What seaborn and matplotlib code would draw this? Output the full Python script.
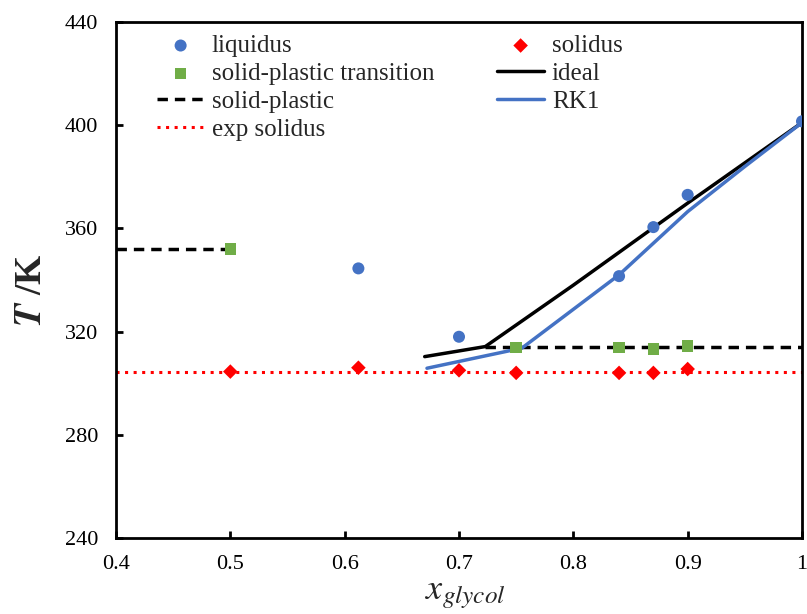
import numpy as np
import pandas as pd
import seaborn as sns
import matplotlib
import matplotlib.pyplot as plt
matplotlib.use('Agg')

liq_x = [0.612, 0.70, 0.84, 0.87, 0.90, 1.0]
liq_T = [344.5, 318.0, 341.5, 360.5, 373.0, 401.5]

sol_x = [0.50, 0.612, 0.70, 0.75, 0.84, 0.87, 0.90]
sol_T = [304.5, 306.0, 305.0, 304.0, 304.0, 304.0, 305.5]

spt_x = [0.50, 0.75, 0.84, 0.87, 0.90]
spt_T = [352.0, 313.8, 313.8, 313.3, 314.5]

# Model curves
ideal_x = [0.67, 0.723, 0.80, 0.90, 1.0]
ideal_T = [310.3, 314.2, 338.0, 369.8, 401.0]

rk1_x = [0.672, 0.755, 0.84, 0.90, 0.95, 1.0]
rk1_T = [305.8, 313.6, 342.0, 366.5, 384.0, 401.0]

# Horizontal lines
sp_left_x = [0.40, 0.50]
sp_left_T = [352.0, 352.0]
sp_right_x = [0.723, 1.0]
sp_right_T = [314.2, 314.2]
exp_sol_x = [0.40, 1.0]
exp_sol_T = [304.3, 304.3]

blue = '#4472C4'
green = '#70AD47'
red = '#FF0000'

sns.set_theme(style='ticks')
plt.rcParams['font.family'] = ['Liberation Serif', 'DejaVu Serif']
plt.rcParams['mathtext.fontset'] = 'stix'

fig = plt.figure(figsize=(8.07, 6.14), dpi=100)
ax = fig.add_axes([116 / 807, 76 / 614, 686 / 807, 516 / 614])

sns.lineplot(x=sp_left_x, y=sp_left_T, ax=ax, color='black', lw=2.5,
             linestyle=(0, (3, 2)), label='solid-plastic')
sns.lineplot(x=sp_right_x, y=sp_right_T, ax=ax, color='black', lw=2.5,
             linestyle=(0, (3, 2)))
sns.lineplot(x=exp_sol_x, y=exp_sol_T, ax=ax, color=red, lw=2.2,
             linestyle=(0, (1, 1.8)), label='exp solidus')
sns.lineplot(x=ideal_x, y=ideal_T, ax=ax, color='black', lw=2.5,
             sort=False, estimator=None, label='ideal')
sns.lineplot(x=rk1_x, y=rk1_T, ax=ax, color=blue, lw=2.5,
             sort=False, estimator=None, label='RK1')

sns.scatterplot(x=liq_x, y=liq_T, ax=ax, color=blue, marker='o', s=75,
                edgecolor='none', label='liquidus', zorder=5)
sns.scatterplot(x=sol_x, y=sol_T, ax=ax, color=red, marker='D', s=55,
                edgecolor='none', label='solidus', zorder=5)
sns.scatterplot(x=spt_x, y=spt_T, ax=ax, color=green, marker='s', s=70,
                edgecolor='none', label='solid-plastic transition', zorder=5)

ax.set_xlim(0.4, 1.0)
ax.set_ylim(240, 440)
ax.set_xticks(np.arange(0.4, 1.01, 0.1))
ax.set_xticklabels(['0.4', '0.5', '0.6', '0.7', '0.8', '0.9', '1'])
ax.set_yticks(np.arange(240, 441, 40))
ax.tick_params(direction='in', length=5, width=2, labelsize=16,
               colors='black')
ax.tick_params(axis='x', pad=12)
ax.tick_params(axis='y', pad=13)
for side in ['left', 'right', 'top', 'bottom']:
    ax.spines[side].set_visible(True)
    ax.spines[side].set_linewidth(2)
    ax.spines[side].set_color('black')

ax.set_xlabel(r'$x_{glycol}$', fontsize=26)
ax.set_ylabel(r'$\boldsymbol{T}$ /K', fontsize=27, fontweight='bold')
ax.xaxis.set_label_coords(0.51, -0.078)
ax.yaxis.set_label_coords(-0.098, 0.48)

# Legend order: column 1 then column 2
handles, labels = ax.get_legend_handles_labels()
lookup = dict(zip(labels, handles))
order = ['liquidus', 'solid-plastic transition', 'solid-plastic', 'exp solidus',
         'solidus', 'ideal', 'RK1']
ax.legend([lookup[k] for k in order], order, ncol=2, frameon=False,
          loc='upper left', bbox_to_anchor=(0.045, 0.995), fontsize=18,
          handlelength=1.9, handletextpad=0.3, columnspacing=2.5,
          labelspacing=0.22, borderaxespad=0)

plt.savefig('out.png', dpi=100)
